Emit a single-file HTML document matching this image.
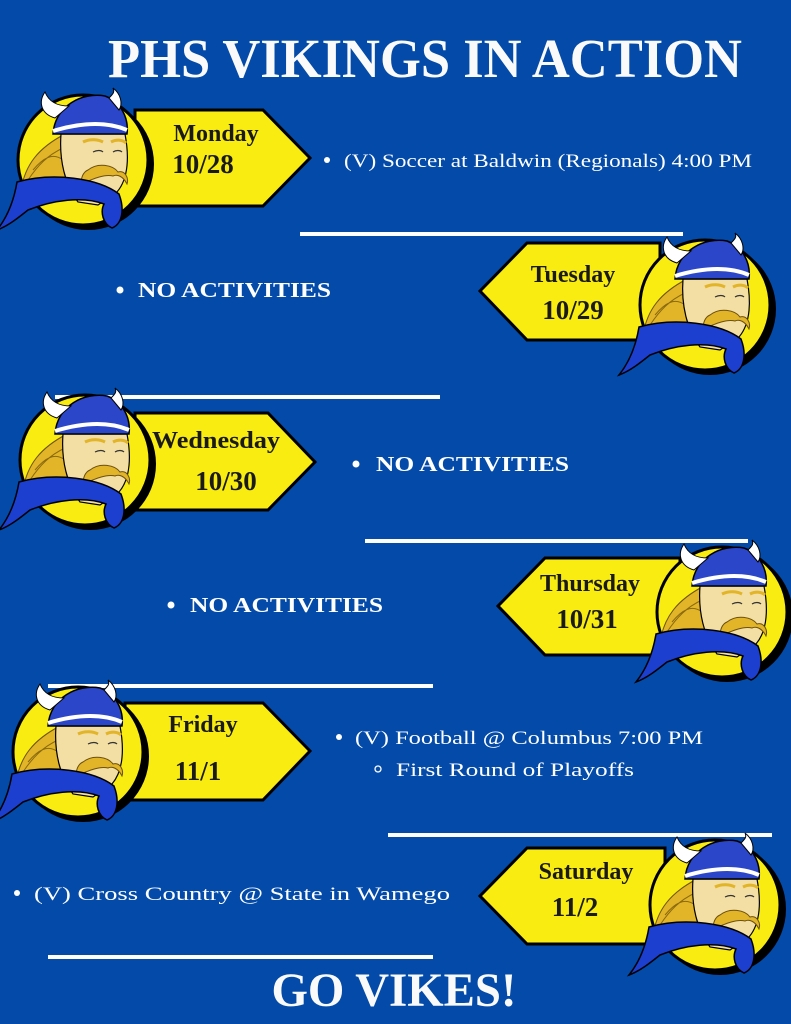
<!DOCTYPE html>
<html><head><meta charset="utf-8"><style>
html,body{margin:0;padding:0;background:#034aa9;}
svg{display:block;}
text{font-family:"Liberation Serif",serif;}
</style></head><body>
<svg width="791" height="1024" viewBox="0 0 791 1024" xmlns="http://www.w3.org/2000/svg">
<defs>
<g id="vk">
<circle cx="5" cy="4" r="66" fill="#000"/>
<circle cx="0" cy="0" r="65" fill="#f8ec10" stroke="#000" stroke-width="3"/>
<path d="M-62,30 C-58,5 -45,-12 -18,-26 L-5,35 C-25,38 -45,37 -62,30Z" fill="#e2b428" stroke="#6b5010" stroke-width="1"/>
<path d="M-55,20 C-45,5 -35,-5 -20,-12 M-50,10 C-40,-2 -30,-8 -20,0" stroke="#8a6a10" stroke-width="1" fill="none"/>
<path d="M-22,-26 L42,-26 C46,-5 46,18 34,32 L15,45 L-5,42 C-18,25 -24,0 -22,-26Z" fill="#f3dea4" stroke="#000" stroke-width="1.2"/>
<path d="M5,10 C15,2 30,5 35,12 C42,10 46,18 44,24 C40,16 34,14 30,16 C22,14 12,18 -2,24 C-2,18 0,12 5,10Z" fill="#e2b428" stroke="#6b5010" stroke-width="1"/>
<path d="M0,-18 C8,-22 16,-20 20,-18 M28,-18 C34,-21 40,-20 43,-17" stroke="#e2b428" stroke-width="3" fill="none"/>
<path d="M10,-8 C14,-10 18,-10 20,-8 M30,-8 C33,-10 37,-10 39,-8" stroke="#333" stroke-width="1.2" fill="none"/>
<path d="M-30,-26 C-28,-55 0,-68 22,-64 C38,-58 46,-42 44,-26 Z" fill="#2b46c8" stroke="#000" stroke-width="1.5"/>
<path d="M-30,-29 C0,-38 25,-38 44,-30" stroke="#fff" stroke-width="4" fill="none"/>
<path d="M-28,-42 C-42,-46 -45,-58 -38,-68 C-34,-58 -26,-54 -14,-54 Z" fill="#fff" stroke="#000" stroke-width="1"/>
<path d="M26,-62 C30,-66 32,-68 30,-72 C38,-66 40,-56 36,-50Z" fill="#fff" stroke="#000" stroke-width="1"/>
<path d="M-66,22 C-30,12 15,18 36,34 C42,50 39,64 29,68 C20,64 17,52 21,44 C0,36 -30,40 -55,50 C-65,58 -75,66 -86,70 C-78,60 -70,46 -66,22Z" fill="#1d3fd0" stroke="#000" stroke-width="1.5"/>
</g>
</defs>
<rect width="791" height="1024" fill="#034aa9"/>
<text x="425" y="77" font-size="55" font-weight="bold" fill="#fafafa" text-anchor="middle" textLength="634" lengthAdjust="spacingAndGlyphs">PHS VIKINGS IN ACTION</text>

<g fill="#fff">
<rect x="300" y="232" width="383" height="4"/>
<rect x="55" y="395" width="385" height="4"/>
<rect x="365" y="539" width="383" height="4"/>
<rect x="48" y="684" width="385" height="4"/>
<rect x="388" y="833" width="384" height="4"/>
<rect x="48" y="955" width="385" height="4"/>
</g>

<path d="M135,110 L263,110 L310,158 L263,206 L135,206Z" fill="#f8ec10" stroke="#000" stroke-width="3"/>
<use href="#vk" transform="translate(83,160)"/>
<text x="216" y="141" font-size="24" font-weight="bold" text-anchor="middle" fill="#1a1a1a">Monday</text>
<text x="203" y="173" font-size="27" font-weight="bold" text-anchor="middle" fill="#1a1a1a">10/28</text>
<circle cx="327" cy="160" r="3" fill="#fff"/>
<text x="344" y="167" font-size="19" fill="#fff" textLength="408" lengthAdjust="spacingAndGlyphs">(V) Soccer at Baldwin (Regionals) 4:00 PM</text>

<path d="M660,243 L527,243 L480,291 L527,340 L660,340Z" fill="#f8ec10" stroke="#000" stroke-width="3"/>
<use href="#vk" transform="translate(705,305)"/>
<text x="573" y="282" font-size="24" font-weight="bold" text-anchor="middle" fill="#1a1a1a">Tuesday</text>
<text x="573" y="319" font-size="27" font-weight="bold" text-anchor="middle" fill="#1a1a1a">10/29</text>
<circle cx="120" cy="290" r="3.5" fill="#fff"/>
<text x="138" y="297" font-size="21" font-weight="bold" fill="#fff" textLength="193" lengthAdjust="spacingAndGlyphs">NO ACTIVITIES</text>

<path d="M135,413 L268,413 L315,462 L268,510 L135,510Z" fill="#f8ec10" stroke="#000" stroke-width="3"/>
<use href="#vk" transform="translate(85,460)"/>
<text x="216" y="448" font-size="24" font-weight="bold" text-anchor="middle" fill="#1a1a1a" textLength="128" lengthAdjust="spacingAndGlyphs">Wednesday</text>
<text x="226" y="490" font-size="27" font-weight="bold" text-anchor="middle" fill="#1a1a1a">10/30</text>
<circle cx="356" cy="464" r="3.5" fill="#fff"/>
<text x="376" y="471" font-size="21" font-weight="bold" fill="#fff" textLength="193" lengthAdjust="spacingAndGlyphs">NO ACTIVITIES</text>

<path d="M680,558 L545,558 L498,606 L545,655 L680,655Z" fill="#f8ec10" stroke="#000" stroke-width="3"/>
<use href="#vk" transform="translate(722,612)"/>
<text x="590" y="591" font-size="24" font-weight="bold" text-anchor="middle" fill="#1a1a1a">Thursday</text>
<text x="587" y="628" font-size="27" font-weight="bold" text-anchor="middle" fill="#1a1a1a">10/31</text>
<circle cx="171" cy="605" r="3.5" fill="#fff"/>
<text x="190" y="612" font-size="21" font-weight="bold" fill="#fff" textLength="193" lengthAdjust="spacingAndGlyphs">NO ACTIVITIES</text>

<path d="M125,703 L263,703 L310,751 L263,800 L125,800Z" fill="#f8ec10" stroke="#000" stroke-width="3"/>
<use href="#vk" transform="translate(78,752)"/>
<text x="203" y="732" font-size="24" font-weight="bold" text-anchor="middle" fill="#1a1a1a">Friday</text>
<text x="198" y="780" font-size="27" font-weight="bold" text-anchor="middle" fill="#1a1a1a">11/1</text>
<circle cx="339" cy="737" r="3" fill="#fff"/>
<text x="355" y="744" font-size="19" fill="#fff" textLength="348" lengthAdjust="spacingAndGlyphs">(V) Football @ Columbus 7:00 PM</text>
<circle cx="378" cy="769" r="3" fill="none" stroke="#fff" stroke-width="1.3"/>
<text x="396" y="776" font-size="19" fill="#fff" textLength="238" lengthAdjust="spacingAndGlyphs">First Round of Playoffs</text>

<path d="M665,848 L527,848 L480,896 L527,944 L665,944Z" fill="#f8ec10" stroke="#000" stroke-width="3"/>
<use href="#vk" transform="translate(715,905)"/>
<text x="586" y="879" font-size="24" font-weight="bold" text-anchor="middle" fill="#1a1a1a">Saturday</text>
<text x="575" y="916" font-size="27" font-weight="bold" text-anchor="middle" fill="#1a1a1a">11/2</text>
<circle cx="17" cy="893" r="3" fill="#fff"/>
<text x="34" y="900" font-size="19" fill="#fff" textLength="416" lengthAdjust="spacingAndGlyphs">(V) Cross Country @ State in Wamego</text>

<text x="394" y="1006" font-size="48" font-weight="bold" text-anchor="middle" fill="#fafafa" textLength="245" lengthAdjust="spacingAndGlyphs">GO VIKES!</text>
</svg>
</body></html>
